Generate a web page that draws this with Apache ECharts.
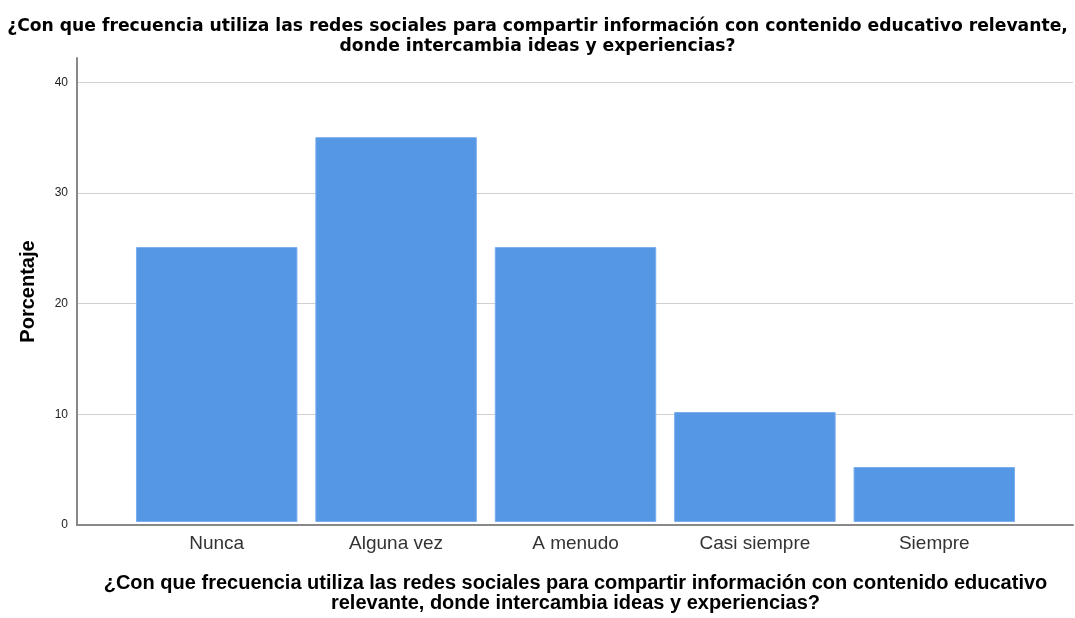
<!DOCTYPE html>
<html>
<head>
<meta charset="utf-8">
<script src="https://cdn.jsdelivr.net/npm/echarts@6/dist/echarts.min.js"></script>
<style>
  html, body { margin: 0; padding: 0; background: #fff; }
  #main { width: 1075px; height: 618px; }
</style>
</head>
<body>
<div id="main"></div>
<script>
var chartDom = document.getElementById('main');
var myChart = echarts.init(chartDom);

// datos
var categorias = ['Nunca', 'Alguna vez', 'A menudo', 'Casi siempre', 'Siempre'];
var porcentajes = [25, 35, 25, 10, 5];
var pregunta = '¿Con que frecuencia utiliza las redes sociales para compartir información con contenido educativo relevante,\ndonde intercambia ideas y experiencias?';
var preguntaEje = '¿Con que frecuencia utiliza las redes sociales para compartir información con contenido educativo\nrelevante, donde intercambia ideas y experiencias?';

var yMax = 42.2; // tope del eje

var option = {
    animation: false,
    title: {
        text: pregunta,
        left: 'center',
        top: 12,
        textStyle: {
            fontFamily: 'DejaVu Sans',
            fontWeight: 'bold',
            fontSize: 17.2,
            lineHeight: 20,
            align: 'center',
            color: '#000'
        }
    },
    grid: [
        { left: 77, right: 2, top: 58, bottom: 93 }, // ejes y rejilla
        { left: 127, right: 51, top: 58, bottom: 93 } // barras
    ],
    xAxis: [{
        gridIndex: 0,
        type: 'value',
        min: 0,
        max: 1,
        axisLine: { show: true, onZero: false, lineStyle: { color: '#888', width: 2 } },
        axisTick: { show: false },
        axisLabel: { show: false },
        splitLine: { show: false }
    }, {
        gridIndex: 1,
        type: 'category',
        data: categorias,
        axisLine: { show: false },
        axisTick: { show: false },
        axisLabel: {
            margin: 12,
            fontFamily: 'Liberation Sans',
            fontSize: 19,
            color: '#333'
        },
        name: preguntaEje,
        nameLocation: 'middle',
        nameGap: 51,
        nameTextStyle: {
            fontFamily: 'Liberation Sans',
            fontWeight: 'bold',
            fontSize: 20,
            lineHeight: 20,
            align: 'center',
            color: '#000',
            verticalAlign: 'top'
        }
    }],
    yAxis: [{
        gridIndex: 0,
        type: 'value',
        min: 0,
        max: yMax,
        interval: 10,
        axisLine: { show: true, lineStyle: { color: '#888', width: 2 } },
        axisTick: { show: false },
        axisLabel: {
            margin: 9,
            fontFamily: 'Liberation Sans',
            fontSize: 12,
            color: '#222',
            showMaxLabel: false
        },
        splitLine: { show: true, showMaxLine: false, showMinLine: false, lineStyle: { color: '#d0d0d0', width: 1 } },
        name: 'Porcentaje',
        nameLocation: 'middle',
        nameRotate: 90,
        nameGap: 39,
        nameTextStyle: {
            fontFamily: 'Liberation Sans',
            fontWeight: 'bold',
            fontSize: 20,
            color: '#000'
        }
    }, {
        gridIndex: 1,
        type: 'value',
        min: 0,
        max: yMax,
        show: false,
        splitLine: { show: false }
    }],
    series: [{
        type: 'bar',
        xAxisIndex: 1,
        yAxisIndex: 1,
        data: porcentajes,
        barCategoryGap: '10%',
        itemStyle: {
            color: '#5596e5',
            borderColor: '#7aaef0',
            borderWidth: 1
        }
    }]
};

option && myChart.setOption(option);
</script>
</body>
</html>
